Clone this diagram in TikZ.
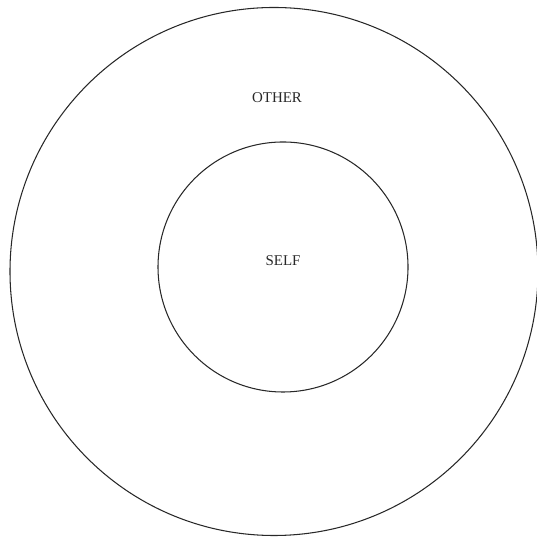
\documentclass[tikz,border=0pt]{standalone}
\usepackage{fontspec}
\setmainfont{Liberation Serif}
\usepackage{xcolor}
\usepackage{tikz}
\usetikzlibrary{positioning}
\definecolor{ringgray}{RGB}{40,40,40}

\begin{document}
\begin{tikzpicture}[
  ring/.style={draw=ringgray, line width=0.6pt, circle, inner sep=0pt},
  tag/.style={font=\fontsize{8.5}{10}\selectfont, text=ringgray, inner sep=0pt},
]
\useasboundingbox (0,0) rectangle (10.72,10.78);

%% Rings
\node[ring, minimum size=10.56cm] (other) at (5.48,5.35) {};
\node[ring, minimum size=5.0cm]   (self)  at (5.66,5.44) {};

%% Labels
\node[tag] (selflabel)  at (5.66,5.56) {SELF};
\node[tag] (otherlabel) at (5.54,8.82) {OTHER};

\end{tikzpicture}
\end{document}
